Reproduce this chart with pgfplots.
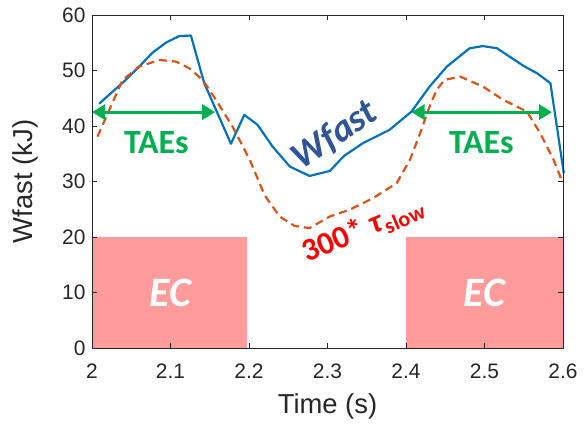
\documentclass[border=0pt]{standalone}
\usepackage{fontspec}
\setmainfont{Liberation Sans}
\newfontfamily\carl{Carlito}
\usepackage{pgfplots}
\pgfplotsset{compat=1.18}
\usetikzlibrary{arrows.meta}
\definecolor{mblue}{HTML}{0072BD}
\definecolor{morange}{HTML}{D95319}
\definecolor{mgray}{HTML}{262626}
\definecolor{ecfill}{HTML}{FF9B9B}
\definecolor{taegreen}{HTML}{00B050}
\definecolor{wblue}{HTML}{2F5597}
\begin{document}
\begin{tikzpicture}
\begin{axis}[name=ax,
  scale only axis, width=471bp, height=333bp,
  xmin=2, xmax=2.6, ymin=0, ymax=60,
  xtick={2,2.1,2.2,2.3,2.4,2.5,2.6},
  ytick={0,10,20,30,40,50,60},
  xticklabel style={/pgf/number format/fixed,/pgf/number format/precision=1},
  xticklabel shift=12bp,
  yticklabel shift=3bp,
  /pgf/number format/assume math mode=true,
  tick align=inside, major tick length=5bp,
  tick style={mgray, line width=0.8pt},
  axis line style={mgray, line width=0.9pt},
  ticklabel style={font=\fontsize{21}{24}\selectfont, text=mgray},
  xlabel={Time (s)}, ylabel={Wfast (kJ)},
  label style={font=\fontsize{27.5}{30}\selectfont, text=mgray},
  xlabel style={yshift=-8bp},
  ylabel style={yshift=17bp},
  axis on top,
  clip=false,
]
\addplot[fill=ecfill, draw=none] coordinates {(2,0)(2.198,0)(2.198,20)(2,20)} -- cycle;
\addplot[fill=ecfill, draw=none] coordinates {(2.4,0)(2.6,0)(2.6,20)(2.4,20)} -- cycle;
\addplot[mblue, line width=2.2pt, line join=round] coordinates {
(2.009,44.0)(2.024,45.9)(2.043,48.3)(2.06,50.7)(2.077,53.2)(2.094,55.0)(2.111,56.2)(2.126,56.3)
(2.143,47.7)(2.158,42.9)(2.177,36.8)(2.194,42.0)(2.211,40.2)(2.230,36.3)(2.252,32.7)(2.277,31.0)
(2.303,31.9)(2.321,34.6)(2.345,36.9)(2.379,39.3)(2.407,42.6)(2.430,47.1)(2.452,50.7)(2.481,54.0)
(2.498,54.4)(2.516,54.0)(2.550,50.8)(2.567,49.5)(2.584,47.7)(2.601,31.5)};
\addplot[morange, line width=2.2pt, dash pattern=on 8bp off 5bp] coordinates {
(2.007,38.1)(2.022,42.9)(2.039,48.3)(2.060,50.7)(2.086,51.9)(2.107,51.6)(2.124,50.4)(2.141,48.3)
(2.158,44.7)(2.179,39.9)(2.201,33.9)(2.220,27.5)(2.239,23.7)(2.258,22.0)(2.277,21.6)(2.303,23.7)
(2.328,24.9)(2.358,27.0)(2.388,29.7)(2.405,33.9)(2.418,38.7)(2.430,43.5)(2.439,46.5)(2.449,48.3)
(2.469,48.9)(2.498,47.1)(2.524,44.7)(2.554,42.6)(2.571,38.7)(2.588,33.9)(2.599,30.0)};
\addplot[taegreen, line width=3.2pt, {Triangle[length=13bp 0 0,width=15bp 0 0]}-{Triangle[length=13bp 0 0,width=15bp 0 0]}] coordinates {(2.0,42.5)(2.157,42.5)};
\addplot[taegreen, line width=3.2pt, {Triangle[length=13bp 0 0,width=15bp 0 0]}-{Triangle[length=13bp 0 0,width=15bp 0 0]}] coordinates {(2.407,42.5)(2.586,42.5)};
\node[taegreen, font=\carl\bfseries\fontsize{34}{36}\selectfont] at (axis cs:2.082,37) {TAEs};
\node[taegreen, font=\carl\bfseries\fontsize{34}{36}\selectfont] at (axis cs:2.496,37) {TAEs};
\node[white, font=\carl\bfseries\itshape\fontsize{42}{44}\selectfont] at (axis cs:2.1,10) {EC};
\node[white, font=\carl\bfseries\itshape\fontsize{42}{44}\selectfont] at (axis cs:2.5,10) {EC};
\node[wblue, rotate=34, font=\carl\bfseries\itshape\fontsize{38}{40}\selectfont] at (axis cs:2.309,38.3) {Wfast};
\node[red, rotate=23, font=\carl\bfseries\fontsize{32}{34}\selectfont] at (axis cs:2.345,21.3) {300* \textit{τ}\raisebox{-5bp}{\fontsize{22}{24}\selectfont slow}};
\end{axis}
\pgfresetboundingbox
\path[use as bounding box] ([xshift=-92bp,yshift=-81bp]ax.south west) rectangle ([xshift=22bp,yshift=15bp]ax.north east);
\end{tikzpicture}
\end{document}
